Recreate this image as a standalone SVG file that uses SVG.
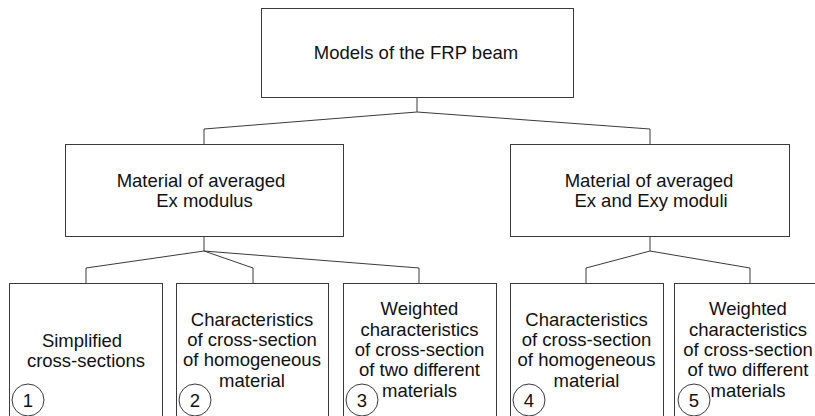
<svg xmlns="http://www.w3.org/2000/svg" width="815" height="416" viewBox="0 0 815 416">
<style>
.box{fill:#fff;stroke:#3a3a3a;stroke-width:1}
.con{fill:none;stroke:#3a3a3a;stroke-width:1}
.t{font-family:"Liberation Sans",Arial,sans-serif;font-size:18.5px;fill:#111;text-anchor:middle}
.c{fill:#fff;stroke:#3a3a3a;stroke-width:1}
</style>
<rect width="815" height="416" fill="#fff"/>
<g id="connectors">
<polyline class="con" points="417,97 417,112"/>
<polyline class="con" points="204,144 204,129 417,112 650,129 650,144"/>
<polyline class="con" points="204,236 204,251"/>
<polyline class="con" points="86,283 86,268 204,251 253,268 253,283"/>
<polyline class="con" points="204,251 419,268 419,283"/>
<polyline class="con" points="650,236 650,251"/>
<polyline class="con" points="586,283 586,268 650,251 750,268 750,283"/>
</g>
<g id="root">
<rect class="box" x="261.5" y="8.5" width="312" height="89"/>
<text class="t" x="416" y="58.5">Models of the FRP beam</text>
</g>
<g id="mat-ex">
<rect class="box" x="65.5" y="144.5" width="278" height="92"/>
<text class="t" x="201" y="187">Material of averaged</text>
<text class="t" x="204.5" y="207">Ex modulus</text>
</g>
<g id="mat-exy">
<rect class="box" x="510.5" y="144.5" width="279" height="92"/>
<text class="t" x="649" y="187">Material of averaged</text>
<text class="t" x="651" y="207">Ex and Exy moduli</text>
</g>
<g id="n1">
<rect class="box" x="9.5" y="283.5" width="153" height="150"/>
<text class="t" x="82" y="346.5">Simplified</text>
<text class="t" x="86" y="366.5">cross-sections</text>
<circle class="c" cx="28" cy="400" r="16"/>
<text class="t" x="28" y="406.5">1</text>
</g>
<g id="n2">
<rect class="box" x="176.5" y="283.5" width="152" height="150"/>
<text class="t" x="252" y="325.5">Characteristics</text>
<text class="t" x="252" y="346">of cross-section</text>
<text class="t" x="252" y="366">of homogeneous</text>
<text class="t" x="252" y="386.5">material</text>
<circle class="c" cx="195" cy="400" r="16"/>
<text class="t" x="195" y="406.5">2</text>
</g>
<g id="n3">
<rect class="box" x="343.5" y="283.5" width="153" height="150"/>
<text class="t" x="419.5" y="315">Weighted</text>
<text class="t" x="419.5" y="335.5">characteristics</text>
<text class="t" x="419.5" y="356">of cross-section</text>
<text class="t" x="419.5" y="376">of two different</text>
<text class="t" x="419.5" y="396.5">materials</text>
<circle class="c" cx="362" cy="400" r="16"/>
<text class="t" x="362" y="406.5">3</text>
</g>
<g id="n4">
<rect class="box" x="510.5" y="283.5" width="153" height="150"/>
<text class="t" x="586.5" y="325.5">Characteristics</text>
<text class="t" x="586.5" y="346">of cross-section</text>
<text class="t" x="586.5" y="366">of homogeneous</text>
<text class="t" x="586.5" y="386.5">material</text>
<circle class="c" cx="529" cy="400" r="16"/>
<text class="t" x="529" y="406.5">4</text>
</g>
<g id="n5">
<rect class="box" x="674.5" y="283.5" width="153" height="150"/>
<text class="t" x="748" y="315">Weighted</text>
<text class="t" x="748" y="335.5">characteristics</text>
<text class="t" x="748" y="356">of cross-section</text>
<text class="t" x="748" y="376">of two different</text>
<text class="t" x="748" y="396.5">materials</text>
<circle class="c" cx="694" cy="400" r="16"/>
<text class="t" x="694" y="406.5">5</text>
</g>
</svg>
